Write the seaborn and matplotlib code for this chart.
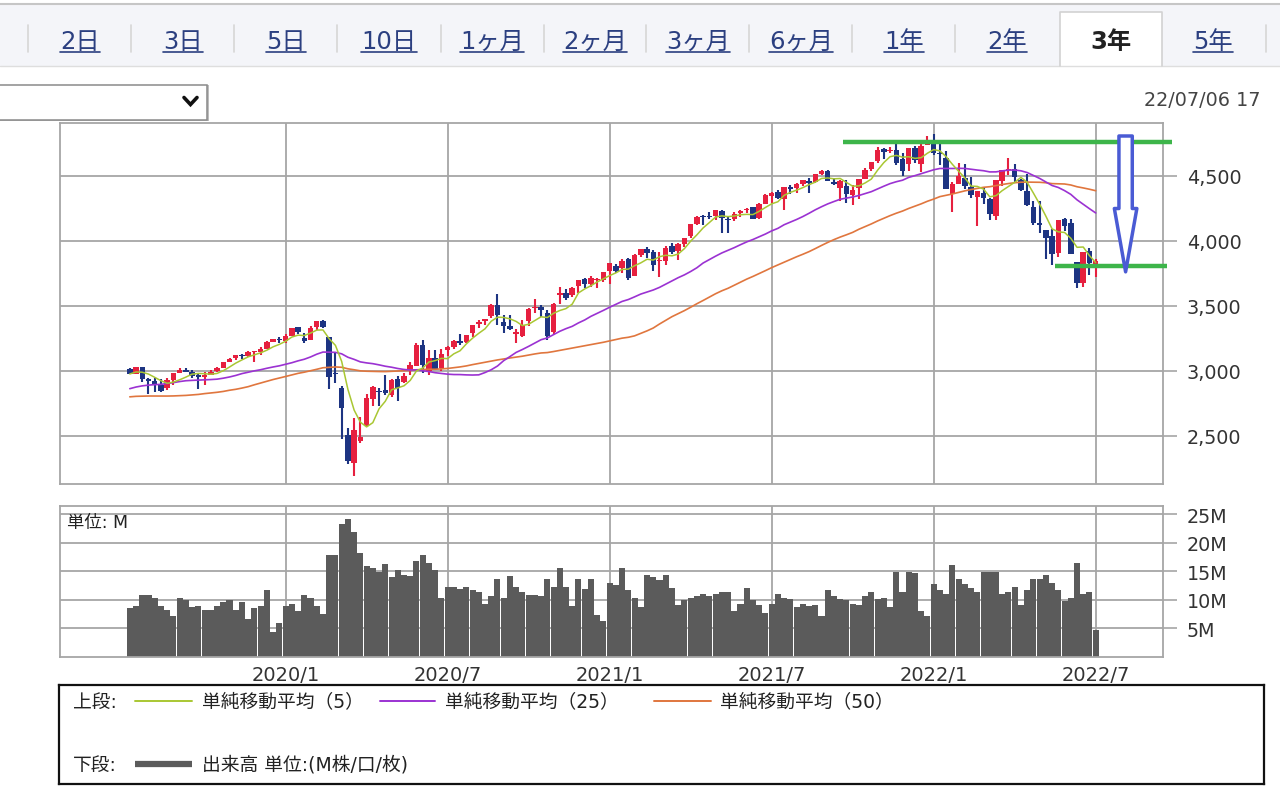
import numpy as np
import pandas as pd
import matplotlib
matplotlib.use("Agg")
import matplotlib.pyplot as plt
import seaborn as sns
from matplotlib.patches import Rectangle
from matplotlib.lines import Line2D

W, H = 1280, 803

# weekly candles, week of 2019/07/15 .. week of 2022/07/04
first_week = "2019-07-15"

# 50 weekly closes before the first candle (only used by the moving averages)
closes_before = [
    2840, 2833, 2850, 2875, 2902, 2872, 2905, 2930, 2914, 2886,
    2767, 2768, 2659, 2723, 2781, 2736, 2633, 2760, 2633, 2600,
    2417, 2486, 2532, 2596, 2671, 2665, 2707, 2708, 2776, 2793,
    2804, 2743, 2822, 2801, 2834, 2893, 2907, 2905, 2940, 2946,
    2881, 2860, 2826, 2752, 2873, 2887, 2950, 2942, 2990, 3014,
]

opens = [
    3014, 2977, 3026, 2932, 2919, 2889, 2866, 2926, 2980, 3007,
    2992, 2968, 2952, 2970, 2996, 3024, 3067, 3094, 3121, 3111,
    3144, 3142, 3170, 3224, 3247, 3227, 3267, 3334, 3248, 3235,
    3336, 3380, 3257, 2974, 2863, 2508, 2290, 2458, 2578, 2782,
    2845, 2854, 2815, 2939, 2913, 3004, 3038, 3199, 2994, 3094,
    3018, 3155, 3184, 3224, 3218, 3288, 3356, 3380, 3418, 3508,
    3371, 3344, 3285, 3270, 3385, 3479, 3493, 3441, 3296, 3584,
    3600, 3579, 3653, 3705, 3665, 3694, 3694, 3764, 3802, 3789,
    3857, 3731, 3892, 3939, 3915, 3842, 3844, 3962, 3917, 3977,
    4034, 4125, 4189, 4185, 4186, 4228, 4169, 4168, 4216, 4233,
    4255, 4173, 4285, 4344, 4373, 4322, 4409, 4406, 4437, 4462,
    4448, 4513, 4532, 4449, 4406, 4419, 4348, 4406, 4474, 4548,
    4610, 4708, 4689, 4700, 4628, 4592, 4712, 4588, 4733, 4778,
    4669, 4632, 4357, 4437, 4482, 4410, 4332, 4363, 4323, 4188,
    4462, 4541, 4548, 4463, 4385, 4262, 4131, 4082, 4034, 3906,
    4170, 4137, 3838, 3675, 3920, 3792,
]

highs = [
    3017, 3028, 3027, 2944, 2943, 2939, 2940, 2985, 3021, 3022,
    3002, 2984, 2993, 3008, 3027, 3067, 3098, 3121, 3127, 3154,
    3146, 3183, 3226, 3247, 3258, 3282, 3330, 3337, 3293, 3347,
    3385, 3393, 3260, 3137, 2882, 2562, 2637, 2642, 2818, 2880,
    2866, 2965, 2934, 2955, 2980, 3068, 3211, 3233, 3155, 3155,
    3166, 3186, 3238, 3280, 3272, 3352, 3387, 3399, 3510, 3588,
    3425, 3428, 3321, 3393, 3482, 3550, 3502, 3464, 3521, 3645,
    3628, 3644, 3700, 3712, 3726, 3711, 3760, 3826, 3823, 3861,
    3870, 3894, 3937, 3950, 3929, 3915, 3960, 3983, 3979, 4020,
    4129, 4191, 4194, 4218, 4237, 4238, 4183, 4218, 4234, 4249,
    4262, 4286, 4356, 4372, 4393, 4415, 4429, 4440, 4469, 4480,
    4513, 4546, 4542, 4485, 4466, 4465, 4429, 4475, 4559, 4608,
    4718, 4714, 4717, 4744, 4672, 4713, 4731, 4740, 4808, 4819,
    4749, 4690, 4453, 4595, 4590, 4490, 4385, 4416, 4325, 4465,
    4546, 4637, 4593, 4471, 4513, 4308, 4307, 4082, 4090, 4158,
    4178, 4168, 3838, 3913, 3946, 3857,
]

lows = [
    2975, 2976, 2914, 2822, 2834, 2834, 2853, 2891, 2979, 2990,
    2946, 2855, 2892, 2965, 2986, 3023, 3065, 3083, 3091, 3105,
    3070, 3124, 3166, 3223, 3216, 3214, 3263, 3281, 3214, 3235,
    3316, 3328, 2855, 2902, 2478, 2280, 2191, 2447, 2566, 2725,
    2727, 2816, 2798, 2767, 2903, 2969, 3032, 2984, 2966, 3004,
    2999, 3115, 3164, 3200, 3209, 3260, 3328, 3354, 3403, 3349,
    3293, 3314, 3209, 3259, 3344, 3441, 3415, 3234, 3279, 3511,
    3543, 3565, 3594, 3633, 3647, 3636, 3680, 3663, 3750, 3750,
    3695, 3725, 3875, 3865, 3768, 3723, 3813, 3895, 3853, 3950,
    4020, 4118, 4124, 4170, 4157, 4057, 4062, 4153, 4180, 4211,
    4165, 4165, 4280, 4289, 4321, 4233, 4360, 4368, 4422, 4367,
    4442, 4506, 4457, 4428, 4305, 4288, 4278, 4322, 4472, 4537,
    4595, 4630, 4672, 4585, 4495, 4532, 4600, 4531, 4733, 4662,
    4582, 4395, 4222, 4435, 4401, 4327, 4114, 4279, 4157, 4162,
    4424, 4507, 4450, 4381, 4269, 4124, 4062, 3859, 3810, 3875,
    4074, 3900, 3636, 3640, 3738, 3721,
]

closes = [
    2977, 3026, 2932, 2919, 2889, 2847, 2926, 2979, 3007, 2992,
    2962, 2952, 2970, 2986, 3023, 3067, 3093, 3120, 3110, 3141,
    3146, 3169, 3221, 3240, 3235, 3265, 3330, 3295, 3226, 3328,
    3380, 3338, 2954, 2972, 2711, 2305, 2541, 2489, 2790, 2875,
    2837, 2831, 2930, 2864, 2955, 3044, 3194, 3041, 3098, 3009,
    3130, 3185, 3225, 3216, 3271, 3351, 3373, 3397, 3508, 3427,
    3341, 3319, 3298, 3348, 3477, 3484, 3465, 3270, 3509, 3585,
    3558, 3638, 3699, 3663, 3709, 3703, 3756, 3825, 3768, 3841,
    3714, 3887, 3935, 3907, 3811, 3842, 3943, 3913, 3975, 4020,
    4129, 4185, 4180, 4181, 4233, 4174, 4156, 4204, 4230, 4247,
    4166, 4281, 4352, 4370, 4327, 4412, 4395, 4437, 4468, 4442,
    4509, 4535, 4459, 4433, 4455, 4357, 4391, 4471, 4545, 4605,
    4698, 4683, 4698, 4595, 4538, 4712, 4621, 4726, 4766, 4677,
    4663, 4398, 4432, 4501, 4419, 4349, 4385, 4329, 4204, 4463,
    4543, 4546, 4488, 4393, 4272, 4132, 4123, 4024, 3901, 4158,
    4109, 3901, 3675, 3912, 3825, 3845,
]

# volume in M
volumes = [
    8.6, 9.0, 10.9, 10.9, 10.3, 9.0, 8.3, 7.1, 10.3, 9.9,
    8.8, 9.0, 8.3, 8.3, 8.9, 9.7, 9.9, 8.3, 9.7, 6.7,
    8.6, 8.9, 11.7, 4.4, 6.0, 9.0, 9.3, 8.0, 10.9, 10.3,
    8.9, 7.6, 17.8, 17.8, 23.2, 24.1, 21.8, 18.2, 15.9, 15.5,
    14.9, 16.3, 14.0, 15.2, 14.4, 14.2, 16.8, 17.8, 16.4, 15.2,
    10.3, 12.2, 12.2, 11.9, 12.2, 11.7, 11.3, 9.3, 10.6, 13.6,
    10.3, 14.2, 12.2, 11.3, 10.9, 10.9, 10.6, 13.6, 12.2, 15.5,
    12.2, 9.0, 13.6, 11.9, 13.6, 7.3, 6.3, 13.0, 12.6, 15.5,
    11.8, 10.3, 8.7, 14.3, 13.9, 13.5, 14.3, 12.0, 9.1, 10.0,
    10.4, 10.7, 11.0, 10.7, 11.0, 11.3, 11.3, 8.1, 9.2, 12.0,
    10.0, 9.1, 7.7, 9.2, 11.0, 10.4, 10.2, 8.7, 9.2, 9.0,
    9.1, 7.1, 11.7, 10.7, 10.2, 10.0, 9.2, 9.1, 10.6, 11.4,
    10.2, 10.4, 8.7, 14.9, 11.4, 14.9, 14.7, 8.1, 7.1, 12.7,
    11.7, 11.0, 16.0, 13.7, 12.7, 12.0, 11.4, 14.9, 14.9, 14.9,
    11.0, 11.4, 12.3, 9.1, 11.7, 13.7, 13.7, 14.3, 12.9, 11.7,
    9.8, 10.4, 16.4, 11.0, 11.3, 4.8,
]

# hand drawn marks: top / bottom levels and the arrow between them
resistance = 4762
support = 3808
arrow_top = 4805
arrow_tip = 3760

tab_labels = ["2日", "3日", "5日", "10日", "1ヶ月", "2ヶ月", "3ヶ月", "6ヶ月",
              "1年", "2年", "3年", "5年"]
selected_tab = "3年"
price_ticks = [2500, 3000, 3500, 4000, 4500]
vol_ticks = [5, 10, 15, 20, 25]

UP = "#e6203f"
DOWN = "#1d3482"
MA5_C = "#a9c733"
MA25_C = "#9b32d2"
MA50_C = "#e0763e"
VOL_C = "#5b5b5b"
GRID = "#a6a6a6"
GREEN = "#3db54a"
ARROW = "#4a5bd4"
TAB_TXT = "#2b3f80"

sns.set_style("white")
plt.rcParams["font.family"] = ["DejaVu Sans", "Noto Sans CJK JP"]

fig = plt.figure(figsize=(W / 100, H / 100), dpi=100)
fig.patch.set_facecolor("white")


def fx(px):
    return px / W


def fy(py):
    return 1 - py / H


n = len(closes)
x = np.arange(n)
weeks = pd.date_range(first_week, periods=n, freq="W-MON")
tick_idx = [i for i in range(1, n)
            if weeks[i].month in (1, 7) and weeks[i].month != weeks[i - 1].month]
tick_lbl = [f"{weeks[i].year}/{weeks[i].month}" for i in tick_idx]

all_closes = pd.Series(closes_before + closes, dtype=float)
ma = pd.DataFrame({
    "x": x,
    "ma5": all_closes.rolling(5).mean().values[-n:],
    "ma25": all_closes.rolling(25).mean().values[-n:],
    "ma50": all_closes.rolling(50).mean().values[-n:],
})

XL = (-11.2, 165.8)

# ---- price panel ----
ax = fig.add_axes([fx(60), fy(485), fx(1163) - fx(60), (485 - 124) / H])
o = np.array(opens, dtype=float)
c = np.array(closes, dtype=float)
col = np.where(c >= o, UP, DOWN)
body_lo = np.minimum(o, c)
body_h = np.maximum(np.abs(c - o), 10)
ax.vlines(x, lows, highs, colors=col, lw=1.5, zorder=2)
ax.bar(x, body_h, bottom=body_lo, width=0.88, color=col, linewidth=0, zorder=2.5)
sns.lineplot(data=ma, x="x", y="ma50", color=MA50_C, lw=1.2, ax=ax, zorder=3)
sns.lineplot(data=ma, x="x", y="ma25", color=MA25_C, lw=1.2, ax=ax, zorder=3)
sns.lineplot(data=ma, x="x", y="ma5", color=MA5_C, lw=1.1, ax=ax, zorder=3)

ax.set_xlim(*XL)
ax.set_ylim(2128, 4905)
ax.set_xlabel("")
ax.set_ylabel("")
ax.set_xticks(tick_idx)
ax.set_xticklabels([])
ax.set_yticks(price_ticks)
ax.set_yticklabels([f"{v:,}" for v in price_ticks])
ax.yaxis.tick_right()
ax.tick_params(axis="y", length=10, width=1.2, color=GRID, pad=7,
               labelsize=13.8, labelcolor="#333333")
ax.tick_params(axis="x", length=0)
ax.grid(True, color=GRID, lw=1.3)
ax.set_axisbelow(True)
for sp in ax.spines.values():
    sp.set_color(GRID)
    sp.set_linewidth(1.3)

# green levels and the hollow arrow
ax.plot([114.4, 167.3], [resistance, resistance], color=GREEN, lw=3.2,
        clip_on=False, zorder=5, solid_capstyle="butt")
ax.plot([148.5, 166.4], [support, support], color=GREEN, lw=3.2,
        clip_on=False, zorder=5, solid_capstyle="butt")
ax.annotate("", xy=(159.8, arrow_tip), xytext=(159.8, arrow_top),
            arrowprops=dict(arrowstyle="simple,head_length=3.8,head_width=1.35,tail_width=0.8",
                            mutation_scale=12, fc="white", ec=ARROW, lw=2.5,
                            shrinkA=0, shrinkB=0),
            annotation_clip=False, zorder=6)

# ---- volume panel ----
axv = fig.add_axes([fx(60), fy(658), fx(1163) - fx(60), (658 - 507) / H])
sns.barplot(x=x, y=volumes, native_scale=True, color=VOL_C, saturation=1,
            width=0.97, linewidth=0, errorbar=None, ax=axv, zorder=2)
axv.set_xlim(*XL)
axv.set_ylim(0, 26.4)
axv.set_xlabel("")
axv.set_ylabel("")
axv.set_xticks(tick_idx)
axv.set_xticklabels(tick_lbl)
axv.set_yticks(vol_ticks)
axv.set_yticklabels([f"{v}M" for v in vol_ticks])
axv.yaxis.tick_right()
axv.tick_params(axis="y", length=10, width=1.2, color=GRID, pad=7,
                labelsize=13.8, labelcolor="#333333")
axv.tick_params(axis="x", length=0, pad=6, labelsize=14, labelcolor="#333333")
axv.grid(True, color=GRID, lw=1.3)
axv.set_axisbelow(True)
for sp in axv.spines.values():
    sp.set_color(GRID)
    sp.set_linewidth(1.3)
axv.text(7 / 1103, (658 - 523) / 151, "単位: M", transform=axv.transAxes,
         va="center", ha="left", fontsize=12.5, color="#222222")

# ---- legend box ----
axl = fig.add_axes([fx(59), fy(785), fx(1264) - fx(59), (785 - 686) / H])
axl.set_xlim(0, 1)
axl.set_ylim(0, 1)
axl.set_xticks([])
axl.set_yticks([])
for sp in axl.spines.values():
    sp.set_color("#111111")
    sp.set_linewidth(1.6)


def lx(px):
    return (px - 59) / (1264 - 59)


def ly(py):
    return (785 - py) / (785 - 686)


row1, row2 = 702, 765
axl.text(lx(73), ly(row1), "上段:", va="center", fontsize=13.5, color="#222222")
for x0, x1, tx, colr, lab in [(135, 192, 202, MA5_C, "単純移動平均（5）"),
                              (380, 435, 445, MA25_C, "単純移動平均（25）"),
                              (654, 711, 720, MA50_C, "単純移動平均（50）")]:
    axl.plot([lx(x0), lx(x1)], [ly(row1)] * 2, color=colr, lw=1.4)
    axl.text(lx(tx), ly(row1), lab, va="center", fontsize=13.5, color="#222222")
axl.text(lx(73), ly(row2), "下段:", va="center", fontsize=13.5, color="#222222")
axl.plot([lx(135), lx(192)], [ly(row2)] * 2, color=VOL_C, lw=4.5, solid_capstyle="butt")
axl.text(lx(202), ly(row2), "出来高 単位:(M株/口/枚)", va="center", fontsize=13.5,
         color="#222222")

# ---- tab bar ----
fig.add_artist(Rectangle((0, fy(67)), 1, fy(5) - fy(67), transform=fig.transFigure,
                         fc="#f4f5f9", ec="none", zorder=0))
fig.add_artist(Line2D([0, 1], [fy(5)] * 2, color="#c6c6c6", lw=1.5))
fig.add_artist(Line2D([0, 1], [fy(67)] * 2, color="#dedede", lw=1.0))
fig.add_artist(Rectangle((fx(1060), fy(68)), fx(1162) - fx(1060), fy(13) - fy(68),
                         transform=fig.transFigure, fc="white", ec="none", zorder=1))
fig.add_artist(Line2D([fx(1060), fx(1060), fx(1162), fx(1162)],
                      [fy(67), fy(13), fy(13), fy(67)], color="#d2d2d2", lw=1.2))
for sx in [28, 131, 234, 337, 441, 544, 646, 749, 852, 955, 1266]:
    fig.add_artist(Line2D([fx(sx)] * 2, [fy(26), fy(53)], color="#d6d6d6", lw=1.2))

tab_centers = [80, 183, 286, 389, 492, 595, 698, 801, 904, 1007, 1111, 1213]
tab_texts = []
for cx, lab in zip(tab_centers, tab_labels):
    if lab == selected_tab:
        fig.text(fx(cx), fy(49), lab, ha="center", va="baseline", fontsize=17.5,
                 fontweight="bold", color="#222222")
    else:
        tab_texts.append(fig.text(fx(cx), fy(49), lab, ha="center", va="baseline",
                                  fontsize=17.5, color=TAB_TXT))

# ---- dropdown and timestamp ----
fig.add_artist(Rectangle((fx(-2), fy(122)), fx(209) - fx(-2), fy(86) - fy(122),
                         transform=fig.transFigure, fc="#bdbdbd", ec="none"))
fig.add_artist(Rectangle((fx(-2), fy(120.5)), fx(207) - fx(-2), fy(86) - fy(120.5),
                         transform=fig.transFigure, fc="white", ec="#8a8a8a", lw=1.1))
fig.add_artist(Line2D([fx(184), fx(190.5), fx(197)], [fy(98.5), fy(105.5), fy(98.5)],
                      color="#111111", lw=2.6, solid_capstyle="round",
                      solid_joinstyle="miter"))
fig.text(fx(1144), fy(101), "22/07/06 17", ha="left", va="center", fontsize=13.8,
         color="#444444")

# underline for the link tabs
fig.canvas.draw()
r = fig.canvas.get_renderer()
for t in tab_texts:
    bb = t.get_window_extent(r)
    fig.add_artist(Line2D([bb.x0 / W, bb.x1 / W], [fy(52.5)] * 2, color=TAB_TXT, lw=1.2))

fig.savefig("out.png", dpi=100)
